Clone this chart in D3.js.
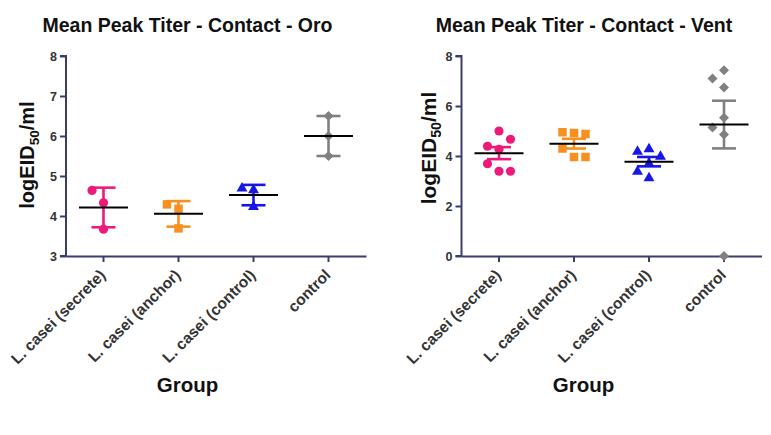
<!DOCTYPE html>
<html><head><meta charset="utf-8">
<script src="https://cdn.jsdelivr.net/npm/d3@7"></script>
<style>body{margin:0;background:#fff} svg{display:block}</style>
</head><body><svg id="c" width="771" height="435"></svg>
<script>
// ---------- data ----------
const groups = ["L. casei (secrete)", "L. casei (anchor)", "L. casei (control)", "control"];
const groupColors = ["#ee1a7a", "#f7901e", "#1616e6", "#808080"];
const groupShapes = ["circle", "square", "triangle", "diamond"];

// Mean Peak Titer - Contact - Oro (logEID50/ml)
const oroSecrete   = [4.33, 3.67, 4.64];
const oroAnchor    = [4.18, 3.69, 4.29];
const oroControlLc = [4.65, 4.23, 4.69];
const oroControl   = [6.5, 6.0, 5.5];

// Mean Peak Titer - Contact - Vent (logEID50/ml)
const ventSecrete   = [5.0, 4.27, 4.39, 4.67, 3.39, 3.69, 3.39];
const ventAnchor    = [4.92, 4.95, 4.88, 3.96, 4.3, 3.96];
const ventControlLc = [4.28, 4.18, 3.98, 3.7, 3.12, 3.38];
const ventControl   = [7.43, 6.74, 7.10, 5.53, 4.86, 5.14, 0];

const oroTicks  = [3, 4, 5, 6, 7, 8];
const ventTicks = [0, 2, 4, 6, 8];

const titles = ["Mean Peak Titer - Contact - Oro", "Mean Peak Titer - Contact - Vent"];
const errorKinds = ["SD", "SEM"];

// ---------- drawing ----------
const svg = d3.select("#c");
const AXIS = "#3d3d6b", TXT = "#333333";
const FONT = "Arial, 'Liberation Sans', sans-serif";

const panels = [
  {x0: 66, x1: 366, yT: 56, yB: 256, domain: [3, 8], ticks: oroTicks,
   series: [oroSecrete, oroAnchor, oroControlLc, oroControl], title: titles[0], err: errorKinds[0],
   titleX: 187.5, ylabX: 34, ylabY: 155, ylabSize: 20, groupX: 187.5},
  {x0: 461.5, x1: 761.5, yT: 56, yB: 256, domain: [0, 8], ticks: ventTicks,
   series: [ventSecrete, ventAnchor, ventControlLc, ventControl], title: titles[1], err: errorKinds[1],
   titleX: 584, ylabX: 436, ylabY: 148, ylabSize: 21, groupX: 583.5}
];

function shapePath(kind) {
  if (kind === "circle") return d3.symbol(d3.symbolCircle, 66)();
  if (kind === "square") return d3.symbol(d3.symbolSquare, 72)();
  if (kind === "triangle") return d3.symbol(d3.symbolTriangle, 52)();
  return d3.symbol(d3.symbolSquare, 50)();
}

panels.forEach(p => {
  const g = svg.append("g");
  const x = d3.scaleBand().domain(groups).range([p.x0, p.x1]).padding(0);
  const y = d3.scaleLinear().domain(p.domain).range([p.yB, p.yT]);

  // title
  g.append("text").attr("x", p.titleX).attr("y", 32).attr("text-anchor", "middle")
    .attr("font-family", FONT).attr("font-weight", "bold")
    .attr("font-size", 19.5).attr("fill", "#111").text(p.title);

  // y axis
  const ya = g.append("g").attr("transform", `translate(${p.x0},0)`)
    .call(d3.axisLeft(y).tickValues(p.ticks).tickSize(6).tickPadding(3).tickFormat(d3.format("d")));
  ya.select(".domain").attr("stroke", AXIS).attr("stroke-width", 2).attr("d", `M-6,${p.yT}H0V${p.yB}H-6`);
  ya.selectAll(".tick line").attr("stroke", AXIS).attr("stroke-width", 2);
  ya.selectAll(".tick text").attr("fill", TXT).attr("font-family", FONT)
    .attr("font-weight", "bold").attr("font-size", 12.5);

  // x axis
  const xa = g.append("g").attr("transform", `translate(0,${p.yB})`)
    .call(d3.axisBottom(x).tickSize(6).tickSizeOuter(0));
  xa.select(".domain").attr("stroke", AXIS).attr("stroke-width", 2);
  xa.selectAll(".tick line").attr("stroke", AXIS).attr("stroke-width", 2);
  xa.selectAll(".tick text").attr("fill", TXT).attr("font-family", FONT)
    .attr("font-weight", "bold").attr("font-size", 15.5)
    .attr("text-anchor", "end").attr("y", 0).attr("dy", 0)
    .attr("transform", "translate(3,20) rotate(-45)");

  // y label
  const yl = g.append("text").attr("transform", `translate(${p.ylabX},${p.ylabY}) rotate(-90)`)
    .attr("text-anchor", "middle").attr("font-family", FONT)
    .attr("font-weight", "bold").attr("font-size", p.ylabSize).attr("fill", "#111");
  yl.append("tspan").text("logEID");
  yl.append("tspan").attr("font-size", p.ylabSize * 0.68).attr("dy", 5).text("50");
  yl.append("tspan").attr("dy", -5).text("/ml");

  // x label
  g.append("text").attr("x", p.groupX).attr("y", 392).attr("text-anchor", "middle")
    .attr("font-family", FONT).attr("font-weight", "bold")
    .attr("font-size", 20.5).attr("fill", "#111").text("Group");

  // data
  p.series.forEach((vals, i) => {
    const cx = x(groups[i]) + x.bandwidth() / 2;
    const col = groupColors[i];
    // column-scatter placement: avoid overlap by shifting into side slots
    const placed = [];
    const slotOrder = [0, -1, 1, -2, 2];
    vals.forEach(v => {
      const py = y(v);
      const slot = slotOrder.find(s => !placed.some(q => q.s === s && Math.abs(q.py - py) < 14));
      placed.push({v, py, s: slot});
    });
    const shp = shapePath(groupShapes[i]);
    g.append("g").selectAll("path").data(placed).join("path")
      .attr("d", shp).attr("fill", col)
      .attr("transform", d => `translate(${cx + d.s * 11.5},${d.py})` + (groupShapes[i] === "diamond" ? " rotate(45)" : ""));

    const m = d3.mean(vals);
    const sd = d3.deviation(vals);
    const e = p.err === "SD" ? sd : sd / Math.sqrt(vals.length);
    const eb = g.append("g").attr("stroke", col).attr("stroke-width", 2.6);
    eb.append("line").attr("x1", cx).attr("x2", cx).attr("y1", y(m + e)).attr("y2", y(m - e));
    [m + e, m - e].forEach(v => eb.append("line").attr("x1", cx - 12).attr("x2", cx + 12).attr("y1", y(v)).attr("y2", y(v)));
    g.append("line").attr("x1", cx - 24.5).attr("x2", cx + 24.5).attr("y1", y(m)).attr("y2", y(m))
      .attr("stroke", "#000").attr("stroke-width", 2);
  });
});
</script>
</body></html>
